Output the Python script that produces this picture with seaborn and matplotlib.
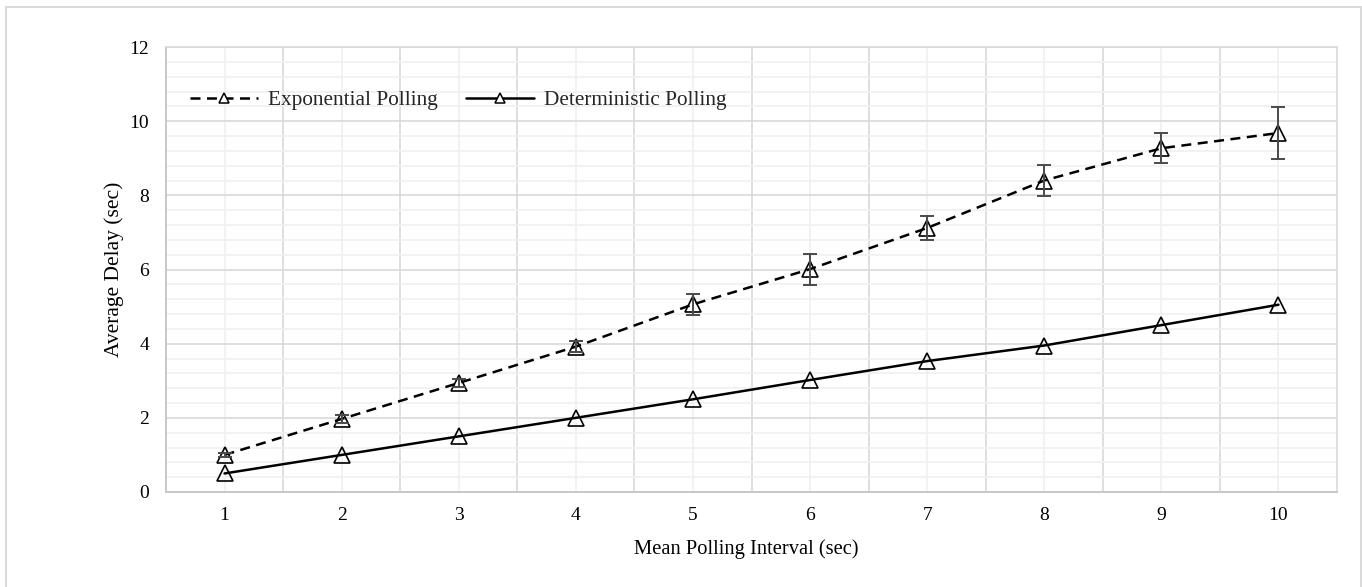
import matplotlib
matplotlib.use("Agg")
import matplotlib.pyplot as plt
import seaborn as sns
import numpy as np
import pandas as pd
from matplotlib.lines import Line2D
from matplotlib.patches import Rectangle
from matplotlib.ticker import MultipleLocator, FixedLocator

# ---- data ----
intervals = [1, 2, 3, 4, 5, 6, 7, 8, 9, 10]
exp_delay = [1.00, 1.97, 2.94, 3.92, 5.06, 6.01, 7.12, 8.40, 9.27, 9.68]
exp_err = [0.05, 0.10, 0.10, 0.15, 0.29, 0.42, 0.32, 0.43, 0.41, 0.69]
det_delay = [0.50, 1.00, 1.50, 2.00, 2.50, 3.02, 3.53, 3.95, 4.50, 5.05]
series_names = ["Exponential Polling", "Deterministic Polling"]
x_label = "Mean Polling Interval (sec)"
y_label = "Average Delay (sec)"

sns.set_theme(style="white")
plt.rcParams["font.family"] = ["Liberation Serif", "DejaVu Serif"]

fig = plt.figure(figsize=(13.62, 5.87), dpi=100)
ax = fig.add_axes([166 / 1362, 95 / 587, 1171 / 1362, 445 / 587])

# figure border (open at the bottom edge, as in the reference)
fig.patches.append(Rectangle((6 / 1362, -0.05), 1355 / 1362, 0.05 + 580 / 587,
                             transform=fig.transFigure, fill=False,
                             edgecolor="#d9d9d9", linewidth=1.4))

dash = (0, (4, 2.6))
sns.lineplot(x=intervals, y=exp_delay, ax=ax, color="black", linewidth=1.8,
             linestyle=dash, marker="^", markersize=11.5, markerfacecolor="none",
             markeredgecolor="black", markeredgewidth=1.2, zorder=4)
sns.lineplot(x=intervals, y=det_delay, ax=ax, color="black", linewidth=1.8,
             marker="^", markersize=11.5, markerfacecolor="none",
             markeredgecolor="black", markeredgewidth=1.2, zorder=4)
ax.errorbar(intervals, exp_delay, yerr=exp_err, fmt="none", ecolor="#4a4a4a",
            elinewidth=1.4, capsize=4.8, capthick=1.4, zorder=5)

ax.set_xlim(0.5, 10.5)
ax.set_ylim(0, 12)
ax.xaxis.set_major_locator(FixedLocator(intervals))
ax.xaxis.set_minor_locator(FixedLocator([i + 0.5 for i in intervals[:-1]]))
ax.yaxis.set_major_locator(MultipleLocator(2))
ax.yaxis.set_minor_locator(MultipleLocator(0.4))

ax.grid(False)
ax.grid(True, which="major", axis="y", color="#d9d9d9", linewidth=1.2, zorder=0)
ax.grid(True, which="minor", axis="y", color="#f0f0f0", linewidth=1.2, zorder=0)
ax.grid(True, which="minor", axis="x", color="#d9d9d9", linewidth=1.2, zorder=0)
ax.grid(True, which="major", axis="x", color="#f0f0f0", linewidth=1.2, zorder=0)
ax.set_axisbelow(True)

for s in ["top", "right"]:
    ax.spines[s].set_color("#d9d9d9")
    ax.spines[s].set_linewidth(1.2)
for s in ["left", "bottom"]:
    ax.spines[s].set_color("#c8c8c8")
    ax.spines[s].set_linewidth(1.4)

ax.tick_params(axis="both", which="both", length=0, labelsize=14,
               colors="#000000")
ax.tick_params(axis="y", pad=12)
ax.tick_params(axis="x", pad=11)
ax.set_yticklabels([str(int(v)) for v in ax.get_yticks()])

ax.set_xlabel(x_label, fontsize=14.8, color="black", va="center")
ax.set_ylabel(y_label, fontsize=15.5, color="black", va="center")
ax.xaxis.set_label_coords((746 - 166) / 1171, -(549 - 492) / 445)
ax.yaxis.set_label_coords(-(166 - 114) / 1171, 0.5)

handles = [
    Line2D([], [], color="black", linewidth=1.8, linestyle=dash, marker="^",
           markersize=7, markerfacecolor="white", markeredgecolor="black",
           markeredgewidth=1.1),
    Line2D([], [], color="black", linewidth=1.8, marker="^",
           markersize=7, markerfacecolor="white", markeredgecolor="black",
           markeredgewidth=1.1),
]
ax.legend(handles, series_names, loc="center left",
          bbox_to_anchor=(24 / 1171, (492 - 100) / 445), ncol=2, frameon=False,
          fontsize=15.3, handlelength=3.2, handletextpad=0.45, columnspacing=1.35,
          borderpad=0, borderaxespad=0)

fig.savefig("out.png", dpi=100)
